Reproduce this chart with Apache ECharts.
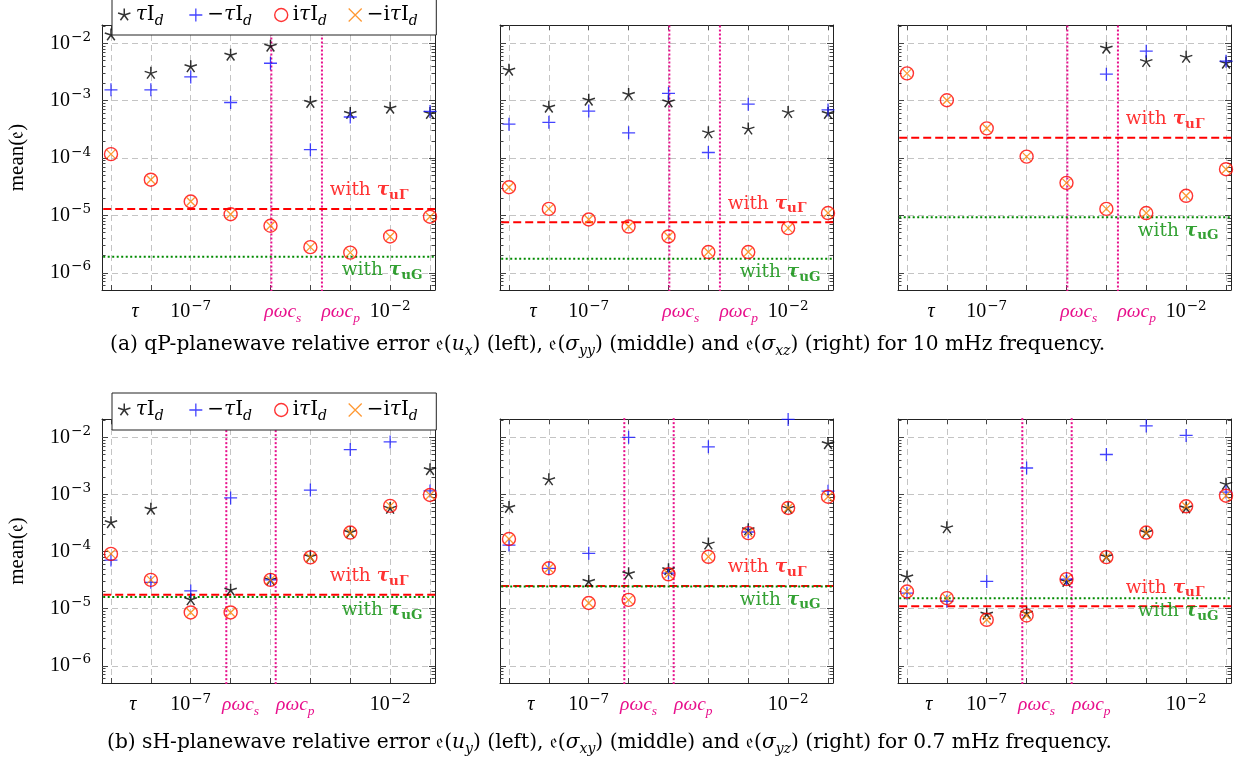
<!DOCTYPE html>
<html><head><meta charset="utf-8">
<script src="https://cdn.jsdelivr.net/npm/echarts@6/dist/echarts.min.js"></script>
<style>html,body{margin:0;padding:0;background:#fff}#c{width:1241px;height:757px}</style>
</head><body><div id="c"></div>
<script>
// ---------------- DATA ----------------
const xValues = [1e-9, 1e-8, 1e-7, 1e-6, 1e-5, 1e-4, 1e-3, 1e-2, 1e-1];
const seriesNames = ['τI_d', '−τI_d', 'iτI_d', '−iτI_d'];

// (a) qP-planewave, 10 mHz : u_x
const qpUxTau      = [1.4e-2, 3.0e-3, 3.9e-3, 6.2e-3, 8.9e-3, 9.3e-4, 6.0e-4, 7.4e-4, 6.0e-4];
const qpUxNegTau   = [1.55e-3, 1.55e-3, 2.6e-3, 9.3e-4, 4.5e-3, 1.4e-4, 5.2e-4, null, 6.5e-4];
const qpUxITau     = [1.17e-4, 4.2e-5, 1.75e-5, 1.05e-5, 6.6e-6, 2.8e-6, 2.25e-6, 4.3e-6, 9.5e-6];
const qpUxNegITau  = [1.17e-4, 4.2e-5, 1.75e-5, 1.05e-5, 6.6e-6, 2.8e-6, 2.25e-6, 4.3e-6, 9.5e-6];
// sigma_yy
const qpSyyTau     = [3.4e-3, 7.7e-4, 1.02e-3, 1.28e-3, 9.5e-4, 2.75e-4, 3.2e-4, 6.2e-4, 6.0e-4];
const qpSyyNegTau  = [3.9e-4, 4.2e-4, 6.6e-4, 2.75e-4, 1.34e-3, 1.25e-4, 8.7e-4, null, 6.9e-4];
const qpSyyITau    = [3.1e-5, 1.3e-5, 8.5e-6, 6.4e-6, 4.3e-6, 2.3e-6, 2.3e-6, 6.0e-6, 1.1e-5];
const qpSyyNegITau = [3.1e-5, 1.3e-5, 8.5e-6, 6.4e-6, 4.3e-6, 2.3e-6, 2.3e-6, 6.0e-6, 1.1e-5];
// sigma_xz
const qpSxzTau     = [null, null, null, null, null, 8.2e-3, 4.8e-3, 5.7e-3, 4.5e-3];
const qpSxzNegTau  = [null, null, null, null, null, 2.9e-3, 7.3e-3, null, 4.9e-3];
const qpSxzITau    = [3.0e-3, 1.02e-3, 3.3e-4, 1.06e-4, 3.7e-5, 1.3e-5, 1.1e-5, 2.2e-5, 6.4e-5];
const qpSxzNegITau = [3.0e-3, 1.02e-3, 3.3e-4, 1.06e-4, 3.7e-5, 1.3e-5, 1.1e-5, 2.2e-5, 6.4e-5];

// (b) sH-planewave, 0.7 mHz : u_y
const shUyTau      = [3.2e-4, 5.5e-4, 1.43e-5, 2.1e-5, 3.2e-5, 8.1e-5, 2.15e-4, 5.7e-4, 2.7e-3];
const shUyNegTau   = [7.1e-5, 2.9e-5, 2.05e-5, 8.7e-4, 3.2e-5, 1.19e-3, 6.1e-3, 8.3e-3, 1.15e-3];
const shUyITau     = [9.1e-5, 3.2e-5, 8.6e-6, 8.6e-6, 3.2e-5, 7.9e-5, 2.15e-4, 6.3e-4, 9.8e-4];
const shUyNegITau  = [9.1e-5, 3.2e-5, 8.6e-6, 8.6e-6, 3.2e-5, 7.9e-5, 2.15e-4, 6.3e-4, 9.8e-4];
// sigma_xy
const shSxyTau     = [5.9e-4, 1.8e-3, 3.0e-5, 4.1e-5, 4.8e-5, 1.35e-4, 2.4e-4, 5.7e-4, 7.7e-3];
const shSxyNegTau  = [1.3e-4, 5.1e-5, 9.3e-5, 1.0e-2, 4.2e-5, 6.8e-3, 2.2e-4, 2.05e-2, 1.14e-3];
const shSxyITau    = [1.66e-4, 5.1e-5, 1.26e-5, 1.43e-5, 4.0e-5, 8.1e-5, 2.1e-4, 5.8e-4, 9.1e-4];
const shSxyNegITau = [1.66e-4, 5.1e-5, 1.26e-5, 1.43e-5, 4.0e-5, 8.1e-5, 2.1e-4, 5.8e-4, 9.1e-4];
// sigma_yz
const shSyzTau     = [3.6e-5, 2.6e-4, 8.0e-6, 8.3e-6, 3.0e-5, 8.1e-5, 2.15e-4, 5.8e-4, 1.5e-3];
const shSyzNegTau  = [1.87e-5, 1.35e-5, 3.0e-5, 2.9e-3, 3.3e-5, 5.0e-3, 1.58e-2, 1.08e-2, 1.1e-3];
const shSyzITau    = [2.0e-5, 1.53e-5, 6.4e-6, 7.6e-6, 3.3e-5, 8.0e-5, 2.15e-4, 6.2e-4, 9.5e-4];
const shSyzNegITau = [2.0e-5, 1.53e-5, 6.4e-6, 7.6e-6, 3.3e-5, 8.0e-5, 2.15e-4, 6.2e-4, 9.5e-4];

// reference levels per panel (a-left, a-mid, a-right, b-left, b-mid, b-right)
const tauUGammaLevel = [1.3e-5, 7.6e-6, 2.26e-4, 1.75e-5, 2.5e-5, 1.1e-5];
const tauUGLevel     = [1.9e-6, 1.75e-6, 9.3e-6, 1.6e-5, 2.45e-5, 1.53e-5];
// rho*omega*c_s and rho*omega*c_p (vertical lines) per row
const rhoOmegaCs = [1.05e-5, 7.8e-7];
const rhoOmegaCp = [1.95e-4, 1.35e-5];
// anchor of the "with ..." labels on the x axis
const levelLabelAnchorX = 1e-1;

// x tick label texts and positions per row
const xTickLabelKeys = ['tau', 'e-7', 'cs', 'cp', 'e-2'];
const xTickLabelPosTop    = [4.0e-9, 1e-7, 2.04e-5, 5.75e-4, 1e-2];
const xTickLabelPosBottom = [3.55e-9, 1e-7, 1.78e-6, 4.2e-5, 1e-2];
const xTickValues = [1e-9, 1e-8, 1e-7, 1e-6, 1e-5, 1e-4, 1e-3, 1e-2, 1e-1];
const yTickValues = [1e-6, 1e-5, 1e-4, 1e-3, 1e-2];

const captionA = '{r|(a) qP-planewave relative error 𝔢(}{i|u}{s|x}{r|) (left), 𝔢(}{i|σ}{s|yy}{r|) (middle) and 𝔢(}{i|σ}{s|xz}{r|) (right) for 10 mHz frequency.}';
const captionB = '{r|(b) sH-planewave relative error 𝔢(}{i|u}{s|y}{r|) (left), 𝔢(}{i|σ}{s|xy}{r|) (middle) and 𝔢(}{i|σ}{s|yz}{r|) (right) for 0.7 mHz frequency.}';

// ---------------- STYLE ----------------
const F = "'Liberation Serif','DejaVu Serif',serif";
const FD = "'DejaVu Serif','Liberation Serif',serif";
const MAG = '#e8108c';
const RED = '#ff0000', GREEN = '#008a00', BLUE = '#1515ff', ORANGE = '#ff8000';
const XMIN = Math.pow(10, -9.225), XMAX = Math.pow(10, -0.875);
const YMIN = Math.pow(10, -6.3), YMAX = Math.pow(10, -1.68);
const COLS = [102, 500, 898], ROWS = [25, 419], GW = 333, GH = [265, 264];

const STAR = 'path://M0,0L0,-1M0,0L0.951,-0.309M0,0L0.588,0.809M0,0L-0.588,0.809M0,0L-0.951,-0.309M-1,-1L-1,-1M1,1L1,1';
const PLUS = 'path://M0,-1L0,1M-1,0L1,0';
const CROSS = 'path://M-1,-1L1,1M-1,1L1,-1';

const RICH = {
  n:   {fontFamily: F, fontSize: 20, color: '#000', lineHeight: 26, fontWeight: 'normal'},
  it:  {fontFamily: F, fontSize: 20, color: '#000', lineHeight: 26, fontStyle: 'italic', fontWeight: 'normal'},
  sup: {fontFamily: FD, fontSize: 13.5, color: '#000', lineHeight: 14, verticalAlign: 'top', padding: [0, 0, 0, 1]},
  m:   {fontFamily: F, fontSize: 19.5, color: MAG, lineHeight: 26, fontStyle: 'italic'},
  ms:  {fontFamily: F, fontSize: 13.5, color: MAG, lineHeight: 14, verticalAlign: 'bottom', fontStyle: 'italic'},
  ln:  {fontFamily: FD, fontSize: 20, color: '#000', lineHeight: 26},
  lit: {fontFamily: FD, fontSize: 20, color: '#000', lineHeight: 26, fontStyle: 'italic'},
  lsub:{fontFamily: FD, fontSize: 14, color: '#000', lineHeight: 14, verticalAlign: 'bottom', fontStyle: 'italic'},
  g1:  {fontSize: 8, lineHeight: 14, width: 15},
  g2:  {fontSize: 8, lineHeight: 14, width: 12},
  g3:  {fontSize: 8, lineHeight: 14, width: 11},
  g4:  {fontSize: 8, lineHeight: 14, width: 2}
};
const LABEL_TEXT = {
  'tau': '{it|τ}',
  'e-7': '{n|10}{sup|−7}',
  'cs':  '{m|ρωc}{ms|s}',
  'cp':  '{m|ρωc}{ms|p}',
  'e-2': '{n|10}{sup|−2}'
};
const LEGEND_TEXT = {
  'τI_d':   '{lit|τ}{ln|I}{lsub|d}{g1| }',
  '−τI_d':  '{ln|−}{lit|τ}{ln|I}{lsub|d}{g2| }',
  'iτI_d':  '{ln|i}{lit|τ}{ln|I}{lsub|d}{g3| }',
  '−iτI_d': '{ln|−i}{lit|τ}{ln|I}{lsub|d}{g4| }'
};

const panels = [
  [qpUxTau, qpUxNegTau, qpUxITau, qpUxNegITau],
  [qpSyyTau, qpSyyNegTau, qpSyyITau, qpSyyNegITau],
  [qpSxzTau, qpSxzNegTau, qpSxzITau, qpSxzNegITau],
  [shUyTau, shUyNegTau, shUyITau, shUyNegITau],
  [shSxyTau, shSxyNegTau, shSxyITau, shSxyNegITau],
  [shSyzTau, shSyzNegTau, shSyzITau, shSyzNegITau]
];

const yMinorTicks = [];
for (let k = -7; k <= -2; k++) for (let m = 2; m <= 9; m++) {
  const v = m * Math.pow(10, k);
  if (v > YMIN && v < YMAX) yMinorTicks.push(v);
}

function pairs(ys) {
  const out = [];
  ys.forEach((y, i) => { if (y != null) out.push([xValues[i], y]); });
  return out;
}
function xFormatter(pos) {
  return function (v) {
    const lv = Math.log10(v);
    for (let i = 0; i < pos.length; i++)
      if (Math.abs(Math.log10(pos[i]) - lv) < 0.004) return LABEL_TEXT[xTickLabelKeys[i]];
    return '';
  };
}
function levelRich(color) {
  return {
    w: {fontFamily: FD, fontSize: 18.5, color: color, lineHeight: 24},
    b: {fontFamily: FD, fontSize: 18.5, color: color, lineHeight: 24, fontStyle: 'italic', fontWeight: 'bold'},
    bs: {fontFamily: FD, fontSize: 13.5, color: color, lineHeight: 14, fontWeight: 'bold', verticalAlign: 'bottom'}
  };
}

const grid = [], xAxis = [], yAxis = [], series = [];
const frame = {color: '#222', width: 1};
const tickStyle = {color: '#444', width: 1};
const gridLine = {color: '#c4c4c4', width: 1, type: [6, 4]};

for (let p = 0; p < 6; p++) {
  const row = p < 3 ? 0 : 1, col = p % 3;
  grid.push({left: COLS[col], top: ROWS[row], width: GW, height: GH[row], outerBoundsMode: 'none', containLabel: false});
  const base = {type: 'log', logBase: 10, gridIndex: p, min: XMIN, max: XMAX, silent: true};
  xAxis.push(Object.assign({}, base, {
    position: 'bottom',
    axisLine: {show: true, onZero: false, lineStyle: frame},
    axisTick: {show: true, inside: true, length: 5, customValues: xTickValues, lineStyle: tickStyle},
    axisLabel: {show: true, customValues: row === 0 ? xTickLabelPosTop : xTickLabelPosBottom,
      formatter: xFormatter(row === 0 ? xTickLabelPosTop : xTickLabelPosBottom), margin: 9, rich: RICH},
    splitLine: {show: true, lineStyle: gridLine},
    minorTick: {show: false}, minorSplitLine: {show: false}
  }));
  xAxis.push(Object.assign({}, base, {
    position: 'top',
    axisLine: {show: true, onZero: false, lineStyle: frame},
    axisTick: {show: true, inside: true, length: 5, customValues: xTickValues, lineStyle: tickStyle},
    axisLabel: {show: false}, splitLine: {show: false}
  }));
  const yb = {type: 'log', logBase: 10, gridIndex: p, min: YMIN, max: YMAX, silent: true};
  yAxis.push(Object.assign({}, yb, {
    position: 'left',
    name: col === 0 ? 'mean(𝔢)' : '', nameLocation: 'middle', nameGap: 74, nameRotate: 90,
    nameTextStyle: {fontFamily: F, fontSize: 21, color: '#000'},
    axisLine: {show: true, onZero: false, lineStyle: frame},
    axisTick: {show: true, inside: true, length: 6, customValues: yTickValues, lineStyle: tickStyle},
    axisLabel: {show: col === 0, customValues: yTickValues, margin: 11, rich: RICH,
      formatter: v => '{n|10}{sup|−' + Math.round(-Math.log10(v)) + '}'},
    splitLine: {show: true, lineStyle: gridLine}
  }));
  yAxis.push(Object.assign({}, yb, {
    position: 'left',
    axisLine: {show: false},
    axisTick: {show: true, inside: true, length: 3.5, customValues: yMinorTicks, lineStyle: tickStyle},
    axisLabel: {show: false}, splitLine: {show: false}
  }));
  yAxis.push(Object.assign({}, yb, {
    position: 'right',
    axisLine: {show: true, onZero: false, lineStyle: frame},
    axisTick: {show: true, inside: true, length: 6, customValues: yTickValues, lineStyle: tickStyle},
    axisLabel: {show: false}, splitLine: {show: false}
  }));
  yAxis.push(Object.assign({}, yb, {
    position: 'right',
    axisLine: {show: false},
    axisTick: {show: true, inside: true, length: 3.5, customValues: yMinorTicks, lineStyle: tickStyle},
    axisLabel: {show: false}, splitLine: {show: false}
  }));

  const ax = {xAxisIndex: 2 * p, yAxisIndex: 4 * p, animation: false, silent: true, emphasis: {disabled: true}};
  // reference lines
  const lineBase = Object.assign({}, ax, {type: 'line', symbol: 'none', showSymbol: false, clip: true, z: 2});
  series.push(Object.assign({}, lineBase, {name: 'cs' + p,
    data: [[rhoOmegaCs[row], 1e-8], [rhoOmegaCs[row], 1]],
    lineStyle: {color: MAG, type: [2, 2], width: 2}}));
  series.push(Object.assign({}, lineBase, {name: 'cp' + p,
    data: [[rhoOmegaCp[row], 1e-8], [rhoOmegaCp[row], 1]],
    lineStyle: {color: MAG, type: [2, 2], width: 2}}));
  series.push(Object.assign({}, lineBase, {name: 'uGamma' + p,
    data: [[1e-11, tauUGammaLevel[p]], [1, tauUGammaLevel[p]]],
    lineStyle: {color: RED, type: [8, 4], width: 2}}));
  series.push(Object.assign({}, lineBase, {name: 'uG' + p,
    data: [[1e-11, tauUGLevel[p]], [1, tauUGLevel[p]]],
    lineStyle: {color: GREEN, type: [2, 2.5], width: 2}}));
  // labels of the reference levels
  series.push(Object.assign({}, ax, {type: 'scatter', name: 'uGammaLabel' + p, symbol: 'circle', symbolSize: 1, z: 7,
    itemStyle: {color: 'rgba(0,0,0,0)'},
    data: [[levelLabelAnchorX, tauUGammaLevel[p]]],
    label: {show: true, position: [-21, -18], align: 'right', verticalAlign: 'middle',
      formatter: '{w|with }{b|τ}{bs|uΓ}', rich: levelRich(RED)}}));
  series.push(Object.assign({}, ax, {type: 'scatter', name: 'uGLabel' + p, symbol: 'circle', symbolSize: 1, z: 7,
    itemStyle: {color: 'rgba(0,0,0,0)'},
    data: [[levelLabelAnchorX, tauUGLevel[p]]],
    label: {show: true, position: [-7, 14], align: 'right', verticalAlign: 'middle',
      formatter: '{w|with }{b|τ}{bs|uG}', rich: levelRich(GREEN)}}));

  const d = panels[p];
  const common = Object.assign({}, ax, {type: 'scatter'});
  series.push(Object.assign({}, common, {
    name: seriesNames[0], symbol: STAR, symbolSize: 13, z: 3,
    itemStyle: {color: 'rgba(0,0,0,0)', borderColor: '#000', borderWidth: 1.5},
    data: pairs(d[0])
  }));
  series.push(Object.assign({}, common, {
    name: seriesNames[1], symbol: PLUS, symbolSize: 13, z: 4,
    itemStyle: {color: 'rgba(0,0,0,0)', borderColor: BLUE, borderWidth: 1.3},
    data: pairs(d[1])
  }));
  series.push(Object.assign({}, common, {
    name: seriesNames[2], symbol: 'circle', symbolSize: 13, z: 5,
    itemStyle: {color: 'rgba(0,0,0,0)', borderColor: RED, borderWidth: 1.4},
    data: pairs(d[2])
  }));
  series.push(Object.assign({}, common, {
    name: seriesNames[3], symbol: CROSS, symbolSize: 8.5, z: 6,
    itemStyle: {color: 'rgba(0,0,0,0)', borderColor: ORANGE, borderWidth: 1.3},
    data: pairs(d[3])
  }));
}

const legendIcons = [
  {icon: STAR, itemStyle: {color: 'rgba(0,0,0,0)', borderColor: '#000', borderWidth: 1.5}},
  {icon: PLUS, itemStyle: {color: 'rgba(0,0,0,0)', borderColor: BLUE, borderWidth: 1.3}},
  {icon: 'circle', itemStyle: {color: 'rgba(0,0,0,0)', borderColor: RED, borderWidth: 1.4}},
  {icon: CROSS, itemStyle: {color: 'rgba(0,0,0,0)', borderColor: ORANGE, borderWidth: 1.3}}
];
const legendData = seriesNames.map((n, i) => Object.assign({name: n}, legendIcons[i]));
function makeLegend(top) {
  return {
    show: true, left: 112, top: top, orient: 'horizontal', data: legendData,
    itemWidth: 13, itemHeight: 13, itemGap: 10, padding: [7, 16, 7, 5],
    backgroundColor: '#fff', borderColor: '#222', borderWidth: 1, z: 20,
    selectedMode: false,
    formatter: name => LEGEND_TEXT[name],
    textStyle: {fontFamily: FD, fontSize: 20, color: '#000', rich: RICH}
  };
}

const capRich = {
  r: {fontFamily: FD, fontSize: 20.2, color: '#000', lineHeight: 26, fontWeight: 'normal'},
  i: {fontFamily: FD, fontSize: 20.2, color: '#000', lineHeight: 26, fontStyle: 'italic', fontWeight: 'normal'},
  s: {fontFamily: FD, fontSize: 14, color: '#000', lineHeight: 14, fontStyle: 'italic', fontWeight: 'normal', verticalAlign: 'bottom'}
};

const option = {
  animation: false,
  backgroundColor: '#fff',
  title: [
    {text: captionA, left: 110, top: 332, padding: 0, textStyle: {fontWeight: 'normal', rich: capRich}},
    {text: captionB, left: 107, top: 730, padding: 0, textStyle: {fontWeight: 'normal', rich: capRich}}
  ],
  legend: [makeLegend(-2), makeLegend(393)],
  grid: grid, xAxis: xAxis, yAxis: yAxis, series: series
};
const chart = echarts.init(document.getElementById('c'), null, {renderer: 'canvas'});
chart.setOption(option);
</script></body></html>
